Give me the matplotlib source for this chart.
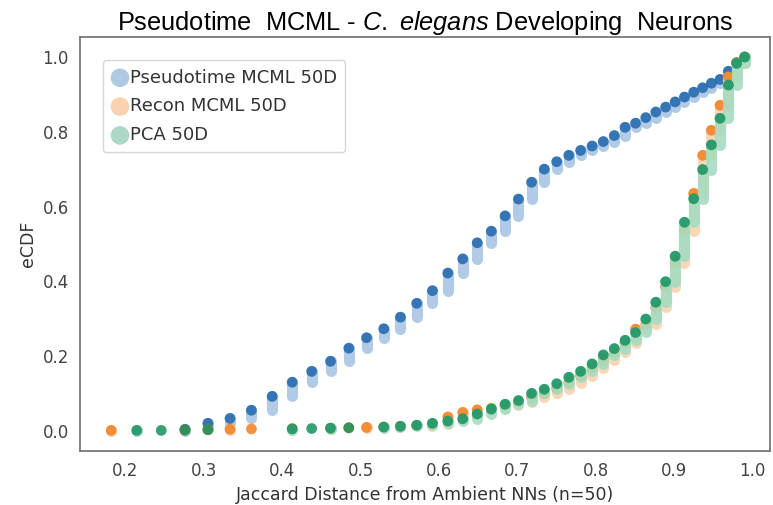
import numpy as np
import matplotlib
matplotlib.use("Agg")
from matplotlib import pyplot as plt

# shared neighbours k out of n=50 -> Jaccard distance 1 - k / (2n - k)
shared_nn = np.arange(45, 0, -1)
jaccard = 1 - shared_nn / (100 - shared_nn)

nan = np.nan
# eCDF value reached at each distance (nan = no cell at that distance)
ecdf_pseudotime = [nan, nan, nan, 0.004, 0.02, 0.033, 0.055, 0.092, 0.13, 0.159,
                   0.186, 0.221, 0.249, 0.273, 0.304, 0.341, 0.375, 0.422, 0.46, 0.503,
                   0.534, 0.575, 0.62, 0.665, 0.70, 0.72, 0.737, 0.75, 0.762, 0.774,
                   0.79, 0.812, 0.823, 0.838, 0.853, 0.866, 0.88, 0.893, 0.906, 0.918,
                   0.93, 0.94, 0.962, 0.985, 1.0]
ecdf_recon = [0.001, nan, nan, 0.002, 0.003, 0.004, 0.005, nan, 0.006, nan,
              0.007, 0.008, 0.009, 0.01, 0.012, 0.014, 0.018, 0.037, 0.049, 0.056,
              0.06, 0.068, 0.078, 0.09, 0.10, 0.113, 0.128, 0.147, 0.168, 0.19,
              0.21, 0.235, 0.272, 0.285, 0.33, 0.385, 0.45, 0.535, 0.635, 0.737,
              0.804, 0.871, 0.947, 0.985, 1.0]
ecdf_pca = [nan, 0.001, 0.001, 0.002, 0.003, nan, nan, nan, 0.005, 0.006,
            0.007, 0.008, nan, 0.01, 0.012, 0.015, 0.02, 0.026, 0.032, 0.045,
            0.058, 0.071, 0.081, 0.10, 0.111, 0.126, 0.143, 0.159, 0.179, 0.203,
            0.22, 0.242, 0.263, 0.299, 0.344, 0.399, 0.467, 0.558, 0.621, 0.699,
            0.765, 0.836, 0.925, 0.983, 1.0]

labels = ["Pseudotime MCML 50D", "Recon MCML 50D", "PCA 50D"]
colors = ["#1f66ae", "#f2801f", "#16915e"]
bar_colors = ["#a9c5e4", "#fcd2b0", "#a6dcc2"]

plt.rcParams["mathtext.fontset"] = "custom"
plt.rcParams["mathtext.rm"] = "Liberation Sans"
plt.rcParams["mathtext.it"] = "Liberation Sans:italic"

fig = plt.figure(figsize=(7.73, 5.05), dpi=100)
ax = fig.add_axes([0.1035, 0.107, 0.8925, 0.82])

z = 2
for vals, lab, col, bcol in zip([ecdf_pseudotime, ecdf_recon, ecdf_pca], labels, colors, bar_colors):
    y = np.array(vals, dtype=float)
    ok = ~np.isnan(y)
    xs, ys = jaccard[ok], y[ok]
    lows = np.concatenate([[0.0], ys[:-1]])
    ax.vlines(xs, lows, ys, color=bcol, alpha=0.9, linewidth=8, capstyle="round", zorder=z)
    ax.scatter(xs, ys, s=60, color=col, alpha=0.85, edgecolors="none", zorder=z + 1)
    ax.scatter([], [], s=180, color=col, alpha=0.35, edgecolors="none", label=lab)
    z += 2

ax.set_xlim(0.142, 1.022)
ax.set_ylim(-0.054, 1.054)
ax.set_xticks(np.arange(0.2, 1.01, 0.1))
ax.set_yticks(np.arange(0.0, 1.01, 0.2))
ax.set_xticklabels(["%.1f" % v for v in np.arange(0.2, 1.01, 0.1)])
ax.set_yticklabels(["%.1f" % v for v in np.arange(0.0, 1.01, 0.2)])
ax.tick_params(length=0, labelsize=12, colors="#444444", pad=8)
for sp in ax.spines.values():
    sp.set_color("#777777")
    sp.set_linewidth(1.3)

ax.set_xlabel("Jaccard Distance from Ambient NNs (n=50)", fontsize=12.5, color="#333333", labelpad=4)
ax.set_ylabel("eCDF", fontsize=12.5, color="#333333", labelpad=4)
ax.set_title(r"Pseudotime  MCML - $\mathit{C.\ elegans}$ Developing  Neurons",
             fontfamily="Liberation Sans", fontsize=18.3, pad=5)

leg = ax.legend(loc="upper left", bbox_to_anchor=(0.02, 0.965), fontsize=13,
                handletextpad=0.05, labelspacing=0.6, borderpad=0.45,
                handlelength=1.0, frameon=True)
leg.get_frame().set_edgecolor("#cccccc")
for t in leg.get_texts():
    t.set_color("#333333")

fig.savefig("out.png", dpi=100)
